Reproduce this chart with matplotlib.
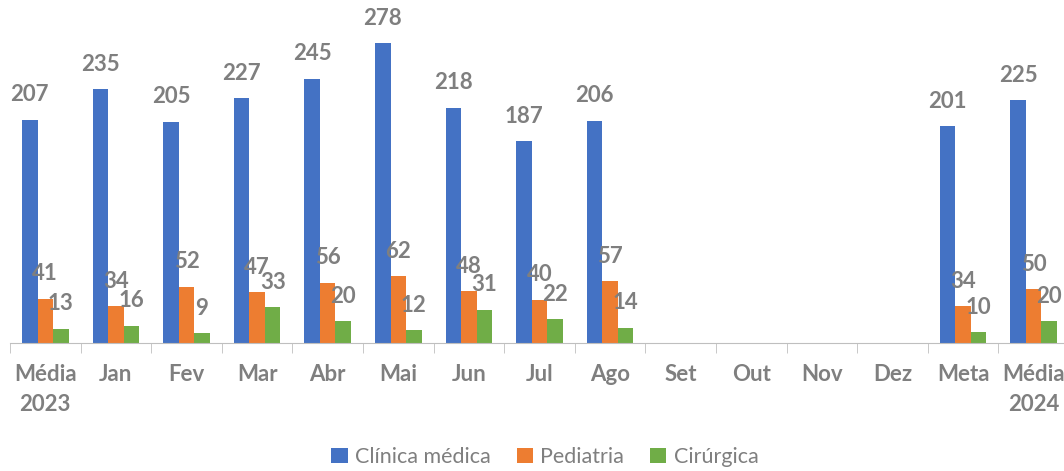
import matplotlib.pyplot as plt
import numpy as np

categories = ['Média\n2023', 'Jan', 'Fev', 'Mar', 'Abr', 'Mai', 'Jun', 'Jul', 'Ago',
              'Set', 'Out', 'Nov', 'Dez', 'Meta', 'Média\n2024']
nan = np.nan
clinica = [207, 235, 205, 227, 245, 278, 218, 187, 206, nan, nan, nan, nan, 201, 225]
pediatria = [41, 34, 52, 47, 56, 62, 48, 40, 57, nan, nan, nan, nan, 34, 50]
cirurgica = [13, 16, 9, 33, 20, 12, 31, 22, 14, nan, nan, nan, nan, 10, 20]

series = [('Clínica médica', clinica, '#4472C4'),
          ('Pediatria', pediatria, '#ED7D31'),
          ('Cirúrgica', cirurgica, '#70AD47')]

plt.rcParams['font.family'] = ['Lato', 'DejaVu Sans']
gray = '#7f7f7f'

fig = plt.figure(figsize=(10.64, 4.71), dpi=100)
# axes slightly wider than the figure: the last category is cut off on the right
ax = fig.add_axes([10 / 1064, 1 - 343 / 471, 1059 / 1064, 323.7 / 471])

x = np.arange(len(categories))
w = 0.22
for i, (name, vals, col) in enumerate(series):
    off = (i - 1) * w
    ax.bar(x + off, vals, width=w, color=col, label=name)
    for xi, v in zip(x, vals):
        if np.isnan(v):
            continue
        ax.annotate(f'{v:.0f}', (xi + off, v), xytext=(0, 25), textcoords='offset pixels',
                    ha='center', va='center', fontsize=16, fontweight='bold', color=gray,
                    annotation_clip=False)

ax.set_xlim(-0.5, len(categories) - 0.5)
ax.set_ylim(0, 300)
ax.set_yticks([])
for s in ['top', 'right', 'left']:
    ax.spines[s].set_visible(False)
ax.spines['bottom'].set_color('#bfbfbf')

ax.set_xticks(x)
ax.set_xticklabels(categories, fontsize=16, fontweight='bold', color=gray, linespacing=1.55)
ax.tick_params(axis='x', which='major', length=0, pad=15)
ax.set_xticks(np.arange(-0.5, len(categories), 1), minor=True)
ax.tick_params(axis='x', which='minor', length=7, color='#bfbfbf')

leg = fig.legend(loc='center', bbox_to_anchor=(545 / 1064, 1 - 457 / 471), ncol=3, frameon=False,
                 handlelength=0.75, handleheight=0.75, columnspacing=1.2, handletextpad=0.35,
                 prop={'size': 15.5})
for t in leg.get_texts():
    t.set_color(gray)

fig.savefig('out.png', dpi=100)
